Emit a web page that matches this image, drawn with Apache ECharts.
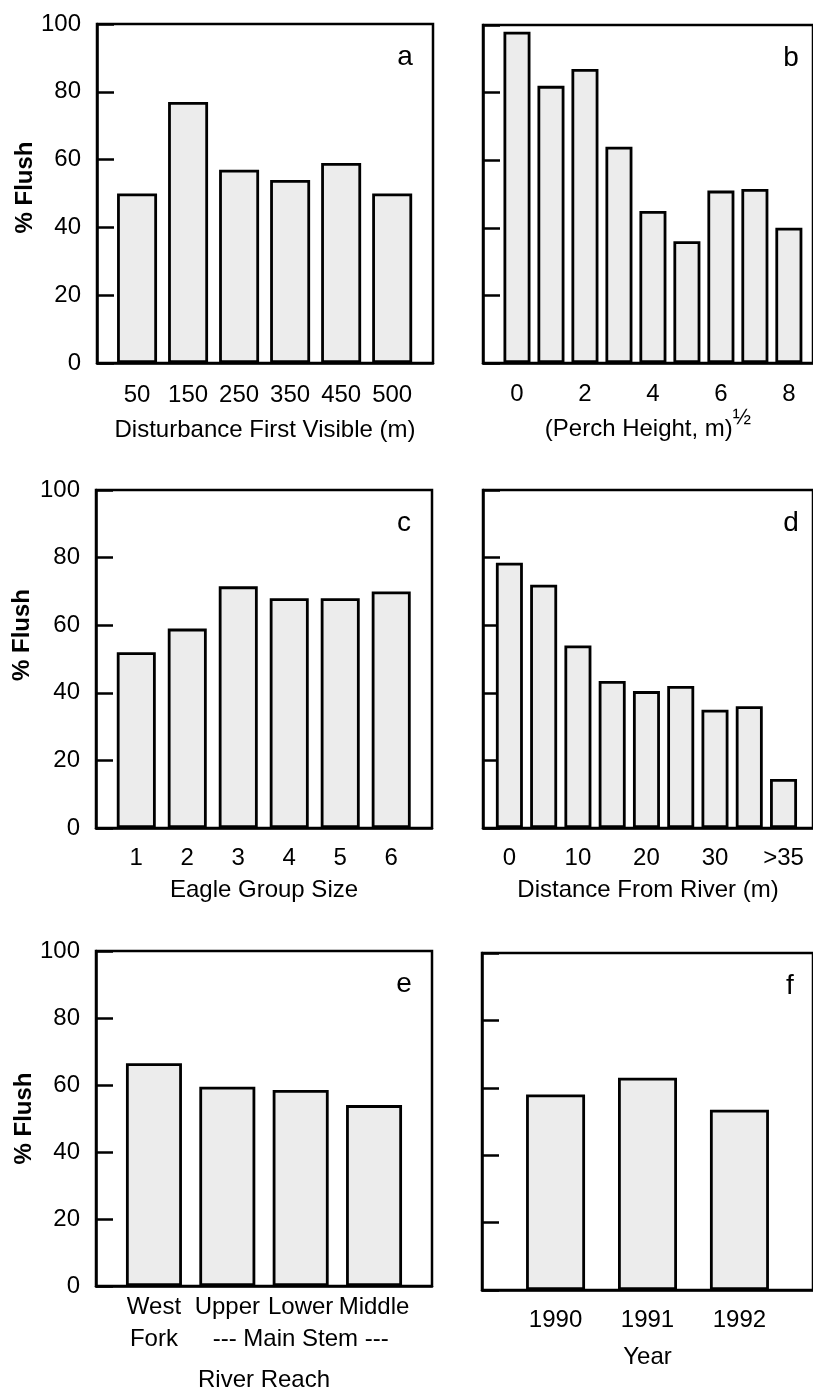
<!DOCTYPE html>
<html>
<head>
<meta charset="utf-8">
<script src="https://cdn.jsdelivr.net/npm/echarts@6/dist/echarts.min.js"></script>
<style>
html, body { margin: 0; padding: 0; background: #fff; }
#main { width: 813px; height: 1393px; }
</style>
</head>
<body>
<div id="main"></div>
<script>
// a - disturbance first visible (m)
var visLabels = ['50', '150', '250', '350', '450', '500'];
var visFlush = [50, 77, 57, 54, 59, 50];

// b - sqrt of perch height, one bar per unit
var perchBins = [0, 1, 2, 3, 4, 5, 6, 7, 8];
var perchFlush = [98, 82, 87, 64, 45, 36, 51, 51.5, 40];
var perchTicks = [0, 2, 4, 6, 8];

// c - eagle group size
var groupLabels = ['1', '2', '3', '4', '5', '6'];
var groupFlush = [52, 59, 71.5, 68, 68, 70];

// d - distance from river, 5 m bins
var distBins = ['0', '5', '10', '15', '20', '25', '30', '35', '>35'];
var distFlush = [78.5, 72, 54, 43.5, 40.5, 42, 35, 36, 14.5];
var distTicks = ['0', '10', '20', '30', '>35'];

// e - river reach
var reachLabels = ['West\nFork', 'Upper', 'Lower', 'Middle'];
var reachFlush = [66.5, 59.5, 58.5, 54];
var reachGroup = '--- Main Stem ---';
var reachGroupSpan = [1, 3];

// f - year
var yearLabels = ['1990', '1991', '1992'];
var yearFlush = [58, 63, 53.5];

var yMin = 0, yMax = 100, yStep = 20;

var FONT = 'Liberation Sans';
var chart = echarts.init(document.getElementById('main'), null, { renderer: 'canvas' });

function idx(arr) { return arr.map(function (_, i) { return i; }); }

var panels = [
    {
        letter: 'a', left: 97, top: 24, height: 339, min: -0.785, max: 5.8, barWidth: 40,
        pos: idx(visLabels), values: visFlush, ticks: idx(visLabels),
        fmt: function (v) { return visLabels[v]; },
        name: 'Disturbance First Visible (m)', nameGap: 55, labelMargin: 20,
        yName: true, yNameGap: 60, yShift: 12
    },
    {
        letter: 'b', left: 483, top: 25, height: 338, min: -1.0, max: 8.71, barWidth: 27,
        pos: perchBins, values: perchFlush, ticks: perchTicks,
        fmt: function (v) { return String(v); },
        name: '{m|(Perch Height, m)}{s|½}', nameGap: 44, labelMargin: 19
    },
    {
        letter: 'c', left: 96, top: 490, height: 338, min: -0.79, max: 5.8, barWidth: 39,
        pos: idx(groupLabels), values: groupFlush, ticks: idx(groupLabels),
        fmt: function (v) { return groupLabels[v]; },
        name: 'Eagle Group Size', nameGap: 50, labelMargin: 18,
        yName: true, yNameGap: 62, yShift: 48
    },
    {
        letter: 'd', left: 483, top: 490, height: 338, min: -0.77, max: 8.86, barWidth: 27,
        pos: idx(distBins), values: distFlush,
        ticks: idx(distBins).filter(function (i) { return distTicks.indexOf(distBins[i]) >= 0; }),
        fmt: function (v) { return distBins[v]; },
        name: 'Distance From River (m)', nameGap: 50, labelMargin: 18
    },
    {
        letter: 'e', left: 96, top: 951, height: 337, min: -0.79, max: 3.79, barWidth: 56,
        pos: idx(reachLabels), values: reachFlush, ticks: idx(reachLabels),
        fmt: function (v) { return reachLabels[v]; },
        name: 'River Reach', nameGap: 82, labelMargin: 5, lineHeight: 32,
        yName: true, yNameGap: 52, yShift: 0,
        group: { at: (reachGroupSpan[0] + reachGroupSpan[1]) / 2, text: reachGroup, margin: 37 }
    },
    {
        letter: 'f', left: 482, top: 953, height: 337, min: -0.8, max: 2.8, barWidth: 59,
        pos: idx(yearLabels), values: yearFlush, ticks: idx(yearLabels),
        fmt: function (v) { return yearLabels[v]; },
        name: 'Year', nameGap: 55, labelMargin: 18
    }
];

var grids = [], xAxes = [], yAxes = [], series = [], graphics = [];

panels.forEach(function (p, i) {
    grids.push({
        left: p.left, top: p.top, width: 336, height: p.height,
        show: true, borderColor: '#000', borderWidth: 2.5
    });
    var xi = xAxes.length;
    xAxes.push({
        gridIndex: i, type: 'value', min: p.min, max: p.max, position: 'bottom',
        axisLine: { show: true, onZero: false, lineStyle: { color: '#000', width: 2.5 } },
        axisTick: { show: false },
        splitLine: { show: false },
        axisLabel: {
            customValues: p.ticks, formatter: p.fmt,
            showMinLabel: true, showMaxLabel: true, hideOverlap: false,
            fontSize: 24, color: '#000', fontFamily: FONT, margin: p.labelMargin,
            lineHeight: p.lineHeight || 24
        },
        name: p.name, nameLocation: 'middle', nameGap: p.nameGap,
        nameTextStyle: {
            fontSize: 24, color: '#000', fontFamily: FONT,
            rich: {
                m: { fontSize: 24, color: '#000', fontFamily: FONT, lineHeight: 24 },
                s: { fontSize: 22, color: '#000', fontFamily: FONT, verticalAlign: 'top', padding: [0, 0, 22, 0] }
            }
        }
    });
    if (p.group) {
        // second label row naming the group of reaches below them
        xAxes.push({
            gridIndex: i, type: 'value', min: p.min, max: p.max, position: 'bottom', offset: 0,
            axisLine: { show: false, onZero: false },
            axisTick: { show: false },
            splitLine: { show: false },
            axisLabel: {
                customValues: [p.group.at],
                formatter: function () { return p.group.text; },
                fontSize: 24, color: '#000', fontFamily: FONT, margin: p.group.margin, lineHeight: 32
            }
        });
    }
    yAxes.push({
        gridIndex: i, type: 'value', min: yMin, max: yMax, interval: yStep,
        axisLine: { show: true, onZero: false, lineStyle: { color: '#000', width: 2.5 } },
        axisTick: { show: true, inside: true, length: 17, lineStyle: { color: '#000', width: 2.5 } },
        splitLine: { show: false },
        axisLabel: { show: !!p.yName, fontSize: 24, color: '#000', fontFamily: FONT, margin: 16 },
        name: p.yName ? '% Flush' : '', nameLocation: 'middle', nameGap: p.yNameGap,
        nameTextStyle: {
            fontSize: 24, fontWeight: 'bold', color: '#000', fontFamily: FONT,
            padding: [0, 0, 0, p.yShift || 0]
        }
    });
    series.push({
        type: 'bar', xAxisIndex: xi, yAxisIndex: i, barWidth: p.barWidth,
        data: p.values.map(function (v, k) { return [p.pos[k], v]; }),
        itemStyle: { color: '#ececec', borderColor: '#000', borderWidth: 2.8 },
        silent: true
    });
    graphics.push({
        type: 'text', x: p.left + 308, y: p.top + 33,
        style: { text: p.letter, fontSize: 28, fontFamily: FONT, fill: '#000', align: 'center', verticalAlign: 'middle' }
    });
});

chart.setOption({
    animation: false,
    backgroundColor: '#fff',
    textStyle: { fontFamily: FONT },
    grid: grids,
    xAxis: xAxes,
    yAxis: yAxes,
    series: series,
    graphic: graphics
});
</script>
</body>
</html>
